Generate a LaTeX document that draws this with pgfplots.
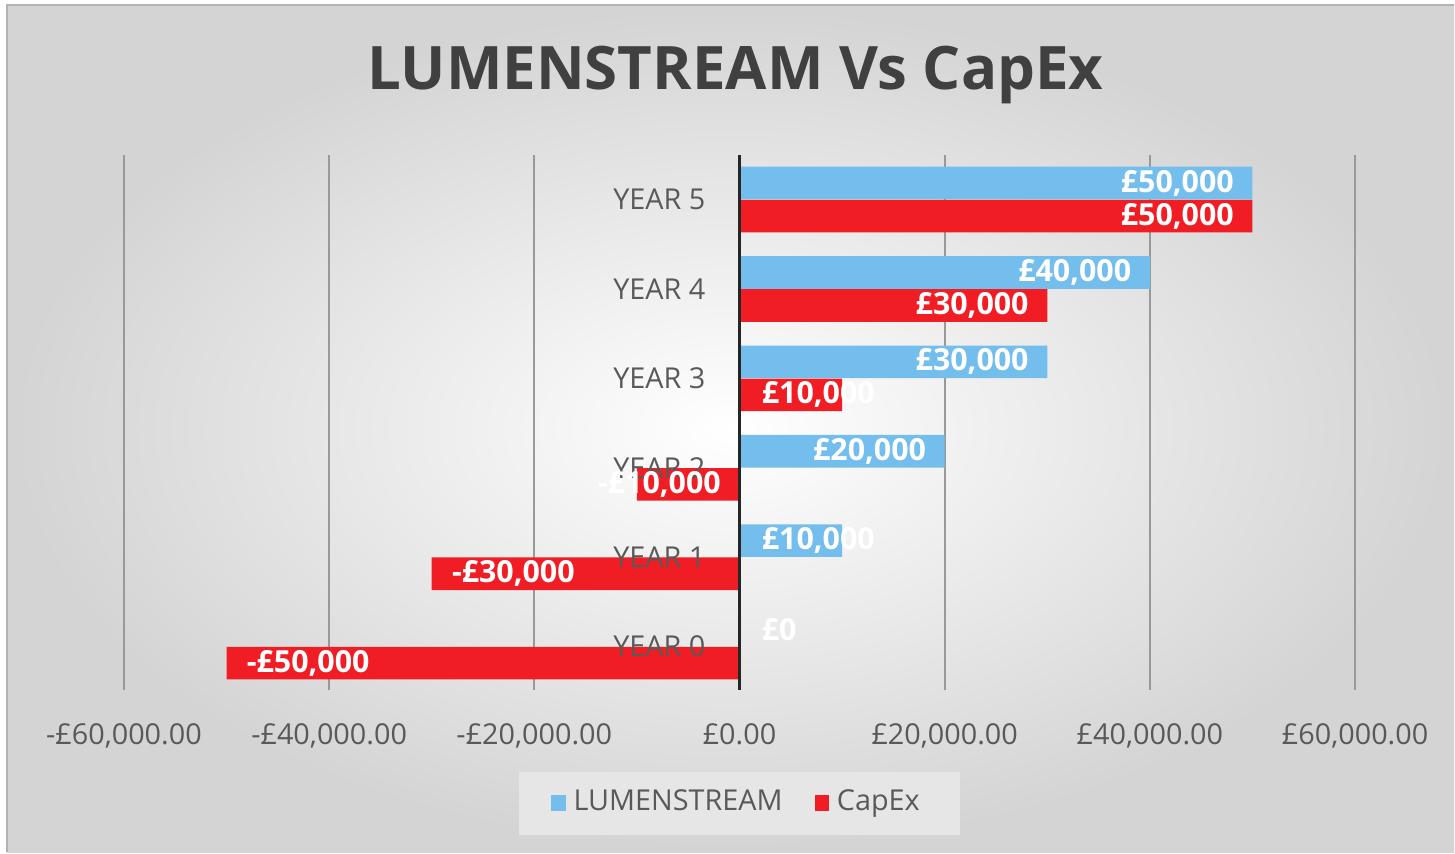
\documentclass[border=0pt]{standalone}
\usepackage{fontspec}
\setmainfont{Open Sans}
\usepackage{pgfplots}
\usepackage{pgfplotstable}
\pgfplotsset{compat=1.18}
\definecolor{lumblue}{RGB}{115,190,236}
\definecolor{capred}{RGB}{240,30,36}
\definecolor{txtgray}{RGB}{89,89,89}
\definecolor{titlegray}{RGB}{64,64,64}
\definecolor{legbg}{RGB}{230,230,230}

% bar values per year
\pgfplotstableread{
year lumen capex
0 0 -50000
1 10000 -30000
2 20000 -10000
3 30000 10000
4 40000 30000
5 50000 50000
}\bars

% data labels, right-aligned at their point
\pgfplotstableread{
x y label
48250 5.185 £50,000
48250 4.815 £50,000
38250 4.185 £40,000
28250 3.815 £30,000
28250 3.185 £30,000
18250 2.185 £20,000
-1750 1.815 -£10,000
}\labelsE

% data labels, left-aligned at their point
\pgfplotstableread{
x y label
2100 2.815 £10,000
2100 1.185 £10,000
-28100 0.815 -£30,000
2100 0.185 £0
-48100 -0.185 -£50,000
}\labelsW

\pgfplotsset{
  frame/.style={
    at={(31pt,40.75pt)}, anchor=south west,
    width=308pt, height=133.75pt, scale only axis,
    xmin=-60000, xmax=60000,
    ymin=-0.48, ymax=5.5,
    xtick={-60000,-40000,-20000,0,20000,40000,60000},
    scaled x ticks=false,
    axis line style={draw=none},
    major tick length=0pt,
  },
  barlabel/.style={forget plot, draw=none, mark=none, nodes near coords,
    point meta=explicit symbolic,
    every node near coord/.append style={anchor=#1, text=white,
        font=\bfseries\fontsize{7.6}{9}\selectfont, inner sep=0pt}},
}

\begin{document}
\begin{tikzpicture}
\fill[white] (0,0) rectangle (363.75pt,213.25pt);
\shade[inner color=white, outer color=black!17]
    (1.75pt,0pt) rectangle (363.75pt,212pt);
\draw[black!30, line width=0.5pt] (1.75pt,0pt) -- (1.75pt,212pt) -- (363.75pt,212pt);
\node[font=\bfseries\fontsize{15}{18}\selectfont, text=titlegray] at (184pt,194.5pt) {LUMENSTREAM Vs CapEx};

% grid lines only, behind the bars
\begin{axis}[frame,
    xticklabels=\empty, ytick=\empty,
    xmajorgrids,
    major grid style={black!40, line width=0.45pt},
]
\end{axis}

\begin{axis}[frame,
    axis on top,
    xticklabels={{-£60,000.00},{-£40,000.00},{-£20,000.00},{£0.00},{£20,000.00},{£40,000.00},{£60,000.00}},
    ytick={0,1,2,3,4,5},
    yticklabels={YEAR 0,YEAR 1,YEAR 2,YEAR 3,YEAR 4,YEAR 5},
    tick label style={font=\fontsize{7.2}{8}\selectfont, text=txtgray},
    xticklabel style={yshift=-5pt},
    yticklabel style={anchor=east, xshift=149pt},
    legend columns=2,
    legend style={at={(0.5,-0.213)}, anchor=center, draw=none,
        fill=legbg,
        font=\fontsize{7.2}{8}\selectfont, text=txtgray,
        inner xsep=8pt, inner ysep=2.5pt,
        /tikz/every even column/.append style={column sep=6pt}},
]
\addplot[xbar, bar width=0.365, bar shift=0.185, fill=lumblue, draw=none,
    legend image code/.code={\fill[lumblue] (0pt,-2pt) rectangle (3.6pt,2pt);}]
    table[x=lumen, y=year] {\bars};
\addlegendentry{LUMENSTREAM}
\addplot[xbar, bar width=0.365, bar shift=-0.185, fill=capred, draw=none,
    legend image code/.code={\fill[capred] (0pt,-2pt) rectangle (3.6pt,2pt);}]
    table[x=capex, y=year] {\bars};
\addlegendentry{CapEx}
\addplot[forget plot, draw=black!85, line width=0.8pt] coordinates {(0,-0.48) (0,5.5)};
\addplot[barlabel=east] table[x=x, y=y, meta=label] {\labelsE};
\addplot[barlabel=west] table[x=x, y=y, meta=label] {\labelsW};
\end{axis}
\end{tikzpicture}
\end{document}
